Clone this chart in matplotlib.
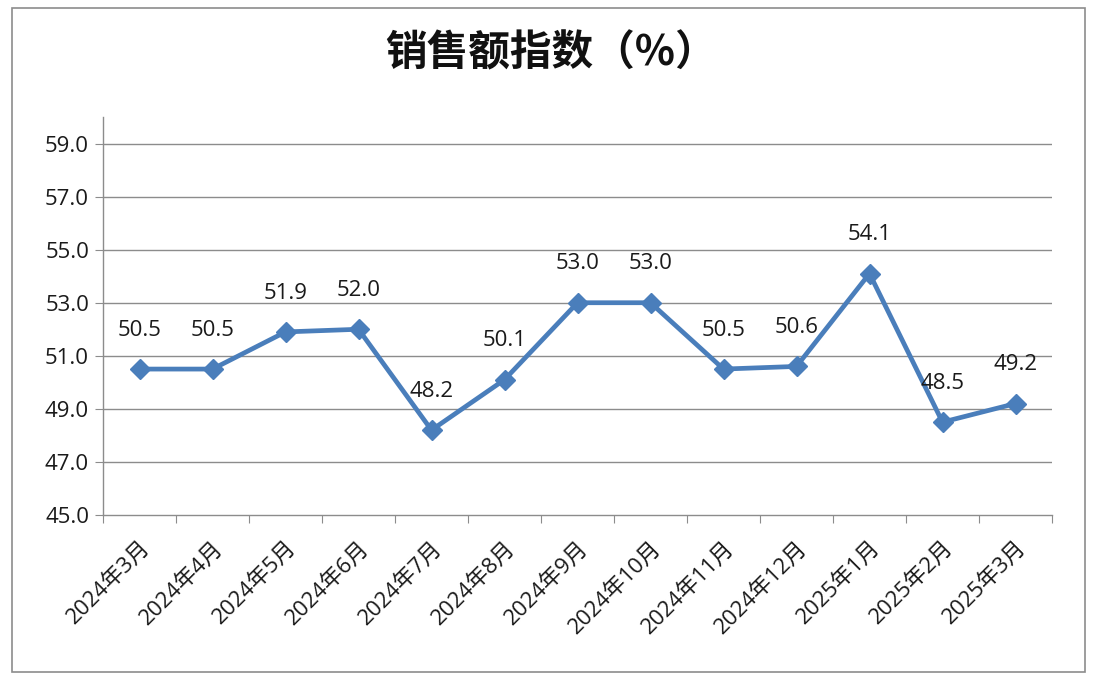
import matplotlib
matplotlib.use("Agg")
import matplotlib.pyplot as plt
import numpy as np
from matplotlib.patches import Rectangle

plt.rcParams['font.family'] = ['Open Sans', 'Noto Sans CJK SC', 'DejaVu Sans']

categories = ["2024年3月", "2024年4月", "2024年5月", "2024年6月", "2024年7月", "2024年8月",
              "2024年9月", "2024年10月", "2024年11月", "2024年12月", "2025年1月", "2025年2月", "2025年3月"]
values = [50.5, 50.5, 51.9, 52.0, 48.2, 50.1, 53.0, 53.0, 50.5, 50.6, 54.1, 48.5, 49.2]
y_ticks = [45.0, 47.0, 49.0, 51.0, 53.0, 55.0, 57.0, 59.0]
title = "销售额指数（%）"

W, H = 1102, 682
fig = plt.figure(figsize=(W/100, H/100), dpi=100)
fig.patch.set_facecolor('white')

# outer border
fig.patches.append(Rectangle((12/W, 1-672/H), (1085-12)/W, (672-8)/H,
                             transform=fig.transFigure, fill=False,
                             edgecolor='#8c8c8c', linewidth=1.2))

left, right, top, bottom = 103, 1052, 117, 515
ax = fig.add_axes([left/W, 1-bottom/H, (right-left)/W, (bottom-top)/H])

n = len(categories)
x = np.arange(n)
color = '#4A7EBB'
ax.plot(x, values, color=color, linewidth=3.4, marker='D', markersize=10,
        markerfacecolor=color, markeredgecolor=color, zorder=3)

fs = 16
for xi, v in zip(x, values):
    ax.annotate(f"{v:.1f}", (xi, v), xytext=(0, 28), textcoords='offset points',
                ha='center', va='center', fontsize=fs, color='#1a1a1a', zorder=4)

ax.set_xlim(-0.5, n-0.5)
ax.set_ylim(45, 60)
ax.set_yticks(y_ticks)
ax.set_yticklabels([f"{t:.1f}" for t in y_ticks], fontsize=fs, color='#1a1a1a')
for t in y_ticks[1:]:
    ax.axhline(t, color='#8c8c8c', linewidth=1.0, zorder=1)

ax.set_xticks(np.arange(-0.5, n, 1.0))
ax.set_xticklabels([])
ax.set_xticks(x, minor=True)
ax.set_xticklabels(categories, minor=True, rotation=45, ha='right',
                   rotation_mode='anchor', fontsize=fs, color='#1a1a1a')
ax.tick_params(axis='x', which='major', length=6, color='#8c8c8c', direction='out')
ax.tick_params(axis='x', which='minor', length=0, pad=16)
ax.tick_params(axis='y', length=6, color='#8c8c8c', direction='out', pad=4)

for s in ['top', 'right']:
    ax.spines[s].set_visible(False)
for s in ['left', 'bottom']:
    ax.spines[s].set_color('#8c8c8c')
    ax.spines[s].set_linewidth(1.0)

fig.text(0.5, 1-53/H, title, ha='center', va='center', fontsize=30,
         fontweight='bold', color='#111111',
         family=['Noto Sans CJK SC', 'DejaVu Sans'])

fig.savefig('out.png', dpi=100, facecolor='white')
